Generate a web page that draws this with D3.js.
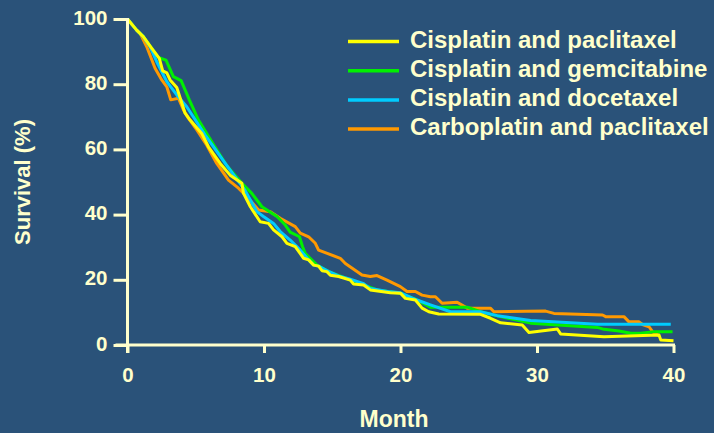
<!DOCTYPE html>
<html>
<head>
<meta charset="utf-8">
<script src="https://cdn.jsdelivr.net/npm/d3@7"></script>
<style>
  html, body { margin: 0; padding: 0; background: #2A5279; }
  svg { display: block; }
  text { font-family: "Liberation Sans", Arial, sans-serif; font-weight: bold; fill: #FFFFCC; }
</style>
</head>
<body>
<svg id="chart" width="714" height="433"></svg>
<script>
// ---- Data ----
const seriesNames = [
  "Cisplatin and paclitaxel",
  "Cisplatin and gemcitabine",
  "Cisplatin and docetaxel",
  "Carboplatin and paclitaxel"
];
const seriesColors = ["#FFFF00", "#00F000", "#00CCFF", "#FF9900"];

const xTicks = [0, 10, 20, 30, 40];
const yTicks = [0, 20, 40, 60, 80, 100];
const xLabel = "Month";
const yLabel = "Survival (%)";

// [month, survival %]
const cisplatinPaclitaxel = [
  [0,100],[0.67,96.6],[1.16,94.6],[1.78,91.0],[2.33,87.9],[2.58,84.1],[2.88,83.5],[3.12,81.3],
  [3.61,79.0],[4.22,71.1],[4.59,69.0],[5.44,64.9],[5.93,60.8],[6.79,55.7],[7.52,52.1],[8.38,49.6],
  [8.5,46.5],[9.0,42.4],[9.72,37.8],[10.33,37.3],[10.7,35.3],[11.32,33.2],[11.68,31.2],[12.29,30.2],
  [12.9,26.6],[13.27,26.1],[13.64,24.5],[14.0,24.2],[14.25,22.8],[14.61,22.5],[14.86,21.4],[15.47,21.0],
  [16.32,19.9],[16.56,18.7],[17.3,18.4],[17.79,16.9],[19.26,16.0],[19.99,15.9],[20.36,14.3],[21.09,13.8],
  [21.58,11.3],[22.07,10.2],[22.8,9.5],[25.86,9.4],[26.6,8.2],[27.33,6.8],[28.92,6.1],[29.41,3.8],
  [31.49,4.9],[31.73,3.4],[34.91,2.5],[38.94,3.1],[39.07,1.5],[40.0,1.3]
];
const cisplatinGemcitabine = [
  [0,100],[0.67,96.6],[1.16,94.6],[1.78,91.0],[2.26,88.2],[2.82,87.4],[3.36,82.3],[3.93,81.1],
  [4.53,75.2],[5.2,69.0],[6.3,61.5],[7.28,55.0],[8.38,49.6],[9.11,46.5],[9.85,42.4],[10.95,39.4],
  [11.56,36.8],[11.92,34.6],[12.6,33.2],[12.82,30.2],[13.02,28.1],[13.88,24.5],[14.73,22.5],[16.57,19.6],
  [18.28,16.9],[19.99,15.9],[21.21,13.8],[22.19,11.6],[24.89,11.6],[25.86,10.2],[27.33,8.7],[29.53,6.7],
  [34.42,5.4],[34.91,4.8],[36.0,4.3],[36.87,3.6],[37.6,3.6],[38.58,4.1],[39.93,4.1]
];
const cisplatinDocetaxel = [
  [0,100],[0.67,96.6],[1.16,94.6],[1.65,91.5],[2.14,86.9],[2.88,80.8],[3.61,76.7],[4.34,73.1],
  [5.69,64.4],[7.15,55.8],[8.6,47.5],[9.48,40.9],[9.96,39.4],[10.7,37.3],[11.19,34.8],[11.92,32.2],
  [12.66,29.1],[13.27,26.1],[13.64,24.5],[14.0,24.2],[14.61,22.8],[15.47,21.2],[16.32,20.2],[17.3,18.8],
  [17.79,17.3],[19.26,16.3],[19.99,16.0],[21.21,13.8],[22.19,12.3],[23.66,10.2],[25.86,10.2],[27.09,9.0],
  [29.53,7.5],[34.42,6.4],[39.8,6.4]
];
const carboplatinPaclitaxel = [
  [0,100],[0.67,96.6],[0.92,95.6],[1.41,91.5],[2.02,84.9],[2.51,81.3],[2.88,79.2],[3.17,75.2],
  [3.73,75.7],[4.1,72.1],[4.39,70.0],[5.08,66.0],[5.81,61.3],[6.54,55.7],[7.4,50.6],[8.13,48.1],
  [8.75,45.5],[9.6,41.4],[10.46,40.9],[11.19,38.9],[12.29,36.3],[12.66,34.3],[13.27,33.2],[13.76,31.2],
  [14.0,29.1],[15.59,26.6],[15.96,25.0],[17.18,21.5],[17.79,21.0],[18.28,21.3],[19.01,19.9],[19.99,17.9],
  [20.48,16.4],[21.09,16.4],[21.58,15.3],[22.19,14.8],[22.56,14.8],[23.05,12.8],[24.15,13.1],[24.89,11.3],
  [26.6,11.3],[26.84,10.2],[30.63,10.4],[31.24,9.7],[34.8,9.2],[35.03,8.7],[36.37,8.7],[36.74,7.1],
  [37.48,7.1],[37.73,6.3],[38.21,5.6],[38.46,4.1],[38.9,2.9]
];
const seriesData = [cisplatinPaclitaxel, cisplatinGemcitabine, cisplatinDocetaxel, carboplatinPaclitaxel];

// ---- Chart ----
const cream = "#FFFFCC";
const svg = d3.select("#chart");
const x = d3.scaleLinear().domain([0, 40]).range([127.5, 673.5]);
const y = d3.scaleLinear().domain([0, 100]).range([345, 19]);

// Series lines (draw orange first, yellow last on top)
const line = d3.line().x(d => x(d[0])).y(d => y(d[1]));
const drawOrder = [3, 1, 2, 0];
svg.append("g").selectAll("path")
  .data(drawOrder)
  .join("path")
  .attr("d", i => line(seriesData[i]))
  .attr("fill", "none")
  .attr("stroke", i => seriesColors[i])
  .attr("stroke-width", 3)
  .attr("stroke-linejoin", "round");

// Y axis
const yAxis = svg.append("g")
  .attr("transform", `translate(${x(0)},0)`)
  .call(d3.axisLeft(y).tickValues(yTicks).tickSize(14).tickPadding(6).tickSizeOuter(0));
yAxis.select(".domain").remove();
yAxis.selectAll("line").attr("stroke", cream).attr("stroke-width", 3);
yAxis.selectAll("text").style("font-size", "20.5px").attr("fill", cream).attr("dy", "0.25em");

// X axis
const xAxis = svg.append("g")
  .attr("transform", `translate(0,${y(0)})`)
  .call(d3.axisBottom(x).tickValues(xTicks).tickSize(8).tickPadding(14).tickSizeOuter(0));
xAxis.select(".domain").remove();
xAxis.selectAll("line").attr("stroke", cream).attr("stroke-width", 3);
xAxis.selectAll("text").style("font-size", "20.5px").attr("fill", cream);

// Axis lines
svg.append("line")
  .attr("x1", x(0)).attr("x2", x(0))
  .attr("y1", y(100) - 1).attr("y2", y(0) + 8)
  .attr("stroke", cream).attr("stroke-width", 3);
svg.append("line")
  .attr("x1", x(0) - 12).attr("x2", x(40) + 1.5)
  .attr("y1", y(0)).attr("y2", y(0))
  .attr("stroke", cream).attr("stroke-width", 3);

// Axis titles
svg.append("text")
  .attr("x", 394).attr("y", 427)
  .attr("text-anchor", "middle")
  .style("font-size", "23px")
  .text(xLabel);
svg.append("text")
  .attr("transform", "translate(30,182) rotate(-90)")
  .attr("text-anchor", "middle")
  .style("font-size", "22px")
  .text(yLabel);

// Legend
const legend = svg.append("g");
const legendTop = 41.5, legendStep = 29.2;
seriesNames.forEach((name, i) => {
  const ly = legendTop + i * legendStep;
  legend.append("line")
    .attr("x1", 348).attr("x2", 399)
    .attr("y1", ly).attr("y2", ly)
    .attr("stroke", seriesColors[i]).attr("stroke-width", 3.5);
  legend.append("text")
    .attr("x", 410).attr("y", ly + 6)
    .style("font-size", "24px")
    .text(name);
});
</script>
</body>
</html>
